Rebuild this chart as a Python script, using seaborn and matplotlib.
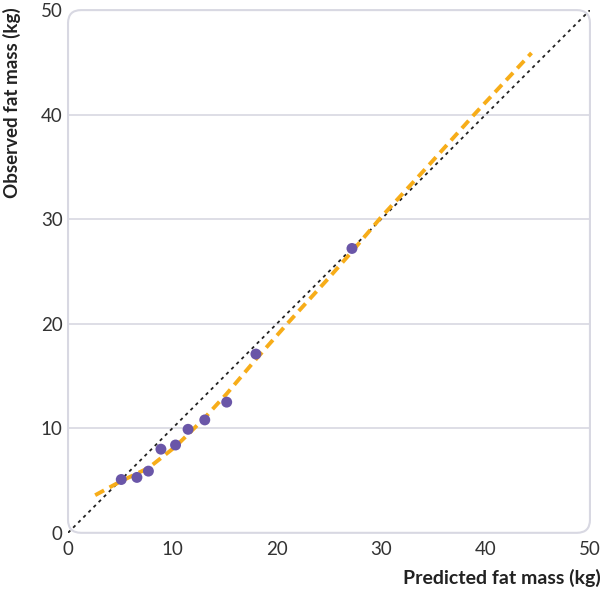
import matplotlib
matplotlib.use("Agg")
import matplotlib.pyplot as plt
from matplotlib.patches import FancyBboxPatch
import seaborn as sns
import pandas as pd

# observed vs predicted
pred = [5.1, 6.6, 7.7, 8.9, 10.3, 11.5, 13.1, 15.2, 18.0, 27.2]
obs = [5.1, 5.3, 5.9, 8.0, 8.4, 9.9, 10.8, 12.5, 17.1, 27.2]

# smoothed calibration curve
curve_x = [2.6, 5.0, 7.7, 10.3, 13.0, 15.2, 18.0, 21.0, 25.0, 27.2, 30.0, 34.5, 38.9, 44.4]
curve_y = [3.6, 4.9, 6.2, 8.25, 10.9, 13.3, 16.6, 20.0, 24.4, 26.9, 30.2, 35.1, 40.0, 45.9]

ticks = [0, 10, 20, 30, 40, 50]

sns.set_style("white")
plt.rcParams['font.family'] = ['Lato', 'DejaVu Sans']

grid_col = "#d8d8e2"
fig = plt.figure(figsize=(6.02, 5.94), dpi=100)
ax = fig.add_axes([0.113, 0.103, 0.867, 0.880])

pts = pd.DataFrame({"pred": pred, "obs": obs})
crv = pd.DataFrame({"x": curve_x, "y": curve_y})

for t in ticks[1:-1]:
    ax.axhline(t, color=grid_col, lw=1.2, zorder=0)

ax.plot([0, 50], [0, 50], color="#222222", lw=1.3, dashes=(1.8, 2.2), zorder=2)
sns.lineplot(data=crv, x="x", y="y", ax=ax, color="#F7AD19", lw=2.8,
             dashes=False, zorder=3).lines[-1].set_dashes((2.6, 1.6))
sns.scatterplot(data=pts, x="pred", y="obs", ax=ax, color="#6A56A8", s=62,
                edgecolor="none", zorder=4)

ax.set_xlim(0, 50)
ax.set_ylim(0, 50)
ax.set_xticks(ticks)
ax.set_yticks(ticks)
for s in ax.spines.values():
    s.set_visible(False)
frame = FancyBboxPatch((0, 0), 1, 1, boxstyle="round,pad=0,rounding_size=0.025",
                       transform=ax.transAxes, fill=False, edgecolor=grid_col,
                       lw=1.5, zorder=1, clip_on=False)
ax.add_patch(frame)

ax.tick_params(axis="x", direction="in", length=5, width=1.2, color=grid_col,
               labelsize=13.5, labelcolor="#333333", pad=6)
ax.tick_params(axis="y", length=0, labelsize=13.5, labelcolor="#333333", pad=4)
for t in ax.xaxis.get_major_ticks():
    if t.get_loc() in (0, 50):
        t.tick1line.set_visible(False)

ax.set_xlabel("")
ax.set_ylabel("")
fig.text(0.998, 0.012, "Predicted fat mass (kg)", ha="right", va="bottom",
         fontsize=14, fontweight="bold", color="#222222")
fig.text(0.004, 0.988, "Observed fat mass (kg)", ha="left", va="top",
         rotation=90, fontsize=13.5, fontweight="bold", color="#222222")

fig.savefig("out.png", dpi=100)
